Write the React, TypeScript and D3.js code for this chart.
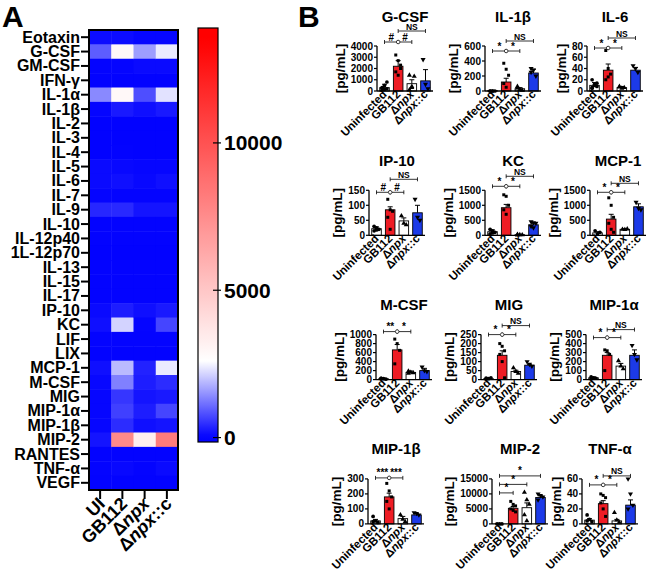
import React from 'react';
import * as d3 from 'd3';

const FONT = 'Arial, "Liberation Sans", Helvetica, sans-serif';

// ---------- panel A: heatmap ----------
const cytokines = ['Eotaxin', 'G-CSF', 'GM-CSF', 'IFN-γ', 'IL-1α', 'IL-1β', 'IL-2', 'IL-3', 'IL-4', 'IL-5',
  'IL-6', 'IL-7', 'IL-9', 'IL-10', 'IL-12p40', '1L-12p70', 'IL-13', 'IL-15', 'IL-17', 'IP-10', 'KC', 'LIF',
  'LIX', 'MCP-1', 'M-CSF', 'MIG', 'MIP-1α', 'MIP-1β', 'MIP-2', 'RANTES', 'TNF-α', 'VEGF'];
const heatGroups = ['UI', 'GB112', 'Δnpx', 'Δnpx::c'];
const heatUI = [120, 950, 40, 30, 1400, 50, 20, 20, 20, 100, 100, 50, 400, 30, 30, 20, 30, 30, 30, 100, 150, 40,
  30, 150, 80, 60, 60, 60, 200, 30, 40, 30];
const heatGB112 = [120, 2900, 50, 30, 2900, 250, 20, 20, 30, 80, 150, 40, 420, 30, 30, 20, 30, 30, 30, 300, 2150, 40,
  30, 1900, 1300, 550, 650, 450, 7600, 30, 80, 30];
const heatNpx = [60, 1600, 100, 30, 800, 150, 20, 20, 20, 60, 80, 40, 200, 30, 30, 20, 30, 30, 30, 150, 50, 40,
  30, 350, 300, 200, 300, 150, 3300, 30, 40, 30];
const heatNpxC = [60, 2400, 100, 30, 2300, 250, 20, 20, 20, 60, 150, 40, 200, 30, 30, 20, 30, 30, 30, 250, 700, 40,
  30, 2400, 450, 250, 700, 200, 8200, 30, 100, 30];
const heatSeries = [heatUI, heatGB112, heatNpx, heatNpxC];
const colorTicks = [0, 5000, 10000];

// ---------- panel B: bar charts ----------
const groups = ['Uninfected', 'GB112', 'Δnpx', 'Δnpx::c'];
const panelNames = ['G-CSF', 'IL-1β', 'IL-6', 'IP-10', 'KC', 'MCP-1', 'M-CSF', 'MIG', 'MIP-1α', 'MIP-1β', 'MIP-2', 'TNF-α'];
const panelTicks = [
  [0, 1000, 2000, 3000, 4000], [0, 200, 400, 600], [0, 20, 40, 60, 80],
  [0, 50, 100, 150], [0, 500, 1000, 1500], [0, 500, 1000, 1500],
  [0, 200, 400, 600, 800, 1000], [0, 50, 100, 150, 200, 250], [0, 100, 200, 300, 400, 500],
  [0, 100, 200, 300], [0, 5000, 10000, 15000], [0, 20, 40, 60],
];
const panelMeans = [
  [300, 2200, 650, 900], [5, 120, 30, 240], [10, 37, 6, 37],
  [22, 85, 48, 75], [120, 920, 20, 350], [80, 540, 200, 950],
  [20, 660, 160, 200], [5, 135, 45, 80], [20, 270, 150, 270],
  [20, 180, 35, 60], [0, 5200, 5400, 8800], [5, 27, 4, 25],
];
const panelErrTops = [
  [600, 2700, 1000, 1900], [8, 170, 45, 290], [15, 48, 8, 42],
  [28, 95, 58, 100], [180, 1030, 30, 400], [120, 700, 220, 1050],
  [30, 780, 190, 250], [8, 160, 52, 85], [30, 300, 180, 330],
  [30, 205, 50, 70], [0, 5800, 7000, 9400], [7, 31, 6, 32],
];
const panelDots = [
  [[100, 150, 200, 300, 500, 800, 250], [3200, 2700, 2300, 1700, 1400, 2000], [100, 400, 1300, 1400, 300], [2800, 600, 200]],
  [[0, 0, 0, 0, 0], [370, 290, 210, 100, 50], [60, 20, 10, 40], [300, 280, 200, 250]],
  [[20, 12, 8, 5, 10, 14, 6], [72, 40, 30, 20, 25], [8, 5, 6, 7], [45, 40, 33]],
  [[30, 25, 20, 15, 18], [120, 85, 80, 60, 20], [65, 40, 35], [120, 60, 50]],
  [[200, 150, 100, 50, 80], [1350, 1300, 1000, 850, 700], [30, 20, 15, 10], [450, 420, 400, 300, 250]],
  [[150, 50, 100], [1250, 1000, 600, 400, 200, 100], [200, 190, 210], [1100, 900, 850]],
  [[30, 20, 10, 25], [900, 800, 650, 350], [190, 160, 150, 140], [280, 200, 180]],
  [[8, 5, 10, 3], [200, 185, 160, 140, 100, 10], [65, 45, 35], [100, 85, 75]],
  [[30, 20, 15, 10], [330, 320, 280, 100], [210, 150, 120], [380, 280, 220]],
  [[50, 20, 10, 15], [270, 220, 180, 150, 100], [60, 30, 15], [75, 70, 60]],
  [[0, 0, 0], [7500, 6500, 6000, 5000, 4500, 4000], [10500, 8000, 6500, 3000, 1000], [10000, 9500, 9000, 8000]],
  [[12, 6, 3, 4], [40, 38, 35, 28, 20, 10], [15, 5, 2], [60, 40, 25, 20]],
];
const std: [number, number, string][] = [[0, 1, '*'], [1, 2, '*'], [1, 3, 'NS']];
const panelBrackets: [number, number, string][][] = [
  [[0, 1, '#'], [1, 2, '#'], [1, 3, 'NS']], std, std,
  [[0, 1, '#'], [1, 2, '#'], [1, 3, 'NS']], std, std,
  [[0, 1, '**'], [1, 2, '*']], std, std,
  [[0, 1, '***'], [1, 2, '***']], [[0, 1, '*'], [0, 2, '*'], [0, 3, '*']], std,
];

// layout of each small chart: y-axis x, bracket offset from plot top, bracket level gap
const panelLayout = [
  { x: 377, base: -4, gap: 11 }, { x: 485, base: 5, gap: 10 }, { x: 587, base: 2, gap: 10 },
  { x: 369, base: 2, gap: 13 }, { x: 485, base: -4, gap: 10 }, { x: 590, base: 2, gap: 9 },
  { x: 376, base: -3, gap: 10 }, { x: 481, base: 0, gap: 9 }, { x: 586, base: 3, gap: 8 },
  { x: 368, base: -1, gap: 10 }, { x: 492, base: 14, gap: 8.5 }, { x: 582, base: 6, gap: 9 },
];
const groupFills = ['#ffffff', '#ee1c24', '#ffffff', '#1c3ae8'];
const groupSymbols = [d3.symbolCircle, d3.symbolSquare, d3.symbolTriangle, d3.symbolTriangle];

const heatColor = d3.scaleLinear<string>()
  .domain([0, 2600, 13500])
  .range(['#0000ff', '#ffffff', '#ff0000'])
  .clamp(true);

const GroupText = ({ name }: { name: string }) =>
  name.startsWith('Δ')
    ? <>Δ<tspan fontStyle="italic">npx</tspan>{name.slice(4)}</>
    : <>{name}</>;

function Heatmap() {
  const xs = d3.scaleBand().domain(heatGroups).range([89, 178]);
  const ys = d3.scaleBand().domain(cytokines).range([30, 490]);
  const cb = d3.scaleLinear().domain([-150, 13900]).range([442, 28]);
  const stops = d3.range(-150, 13901, 250);
  return (
    <g>
      <text x={2} y={27} fontSize={30} fontWeight="bold">A</text>
      {heatSeries.map((vals, j) =>
        vals.map((v, i) => (
          <rect key={`${i}-${j}`} x={xs(heatGroups[j])} y={ys(cytokines[i])}
            width={xs.bandwidth() + 0.5} height={ys.bandwidth() + 0.5} fill={heatColor(v)} />
        )))}
      <rect x={89} y={30} width={89} height={460} fill="none" stroke="#000" strokeWidth={2} />
      {cytokines.map(c => {
        const cy = (ys(c) as number) + ys.bandwidth() / 2;
        return (
          <g key={c}>
            <line x1={81} x2={89} y1={cy} y2={cy} stroke="#000" strokeWidth={2} />
            <text x={80} y={cy} textAnchor="end" dominantBaseline="central" fontSize={16} fontWeight="bold">{c}</text>
          </g>
        );
      })}
      {heatGroups.map(g => {
        const cx = (xs(g) as number) + xs.bandwidth() / 2;
        return (
          <g key={g}>
            <line x1={cx} x2={cx} y1={490} y2={499} stroke="#000" strokeWidth={2} />
            <text transform={`translate(${cx + 6},${505}) rotate(-45)`} textAnchor="end"
              fontSize={18} fontWeight="bold"><GroupText name={g} /></text>
          </g>
        );
      })}
      <defs>
        <linearGradient id="cbar" x1="0" y1="1" x2="0" y2="0">
          {stops.map(s => (
            <stop key={s} offset={(s + 150) / 14050} stopColor={heatColor(Math.max(0, s))} />
          ))}
        </linearGradient>
      </defs>
      <rect x={198} y={cb(13900)} width={20} height={cb(-150) - cb(13900)} fill="url(#cbar)"
        stroke="#000" strokeWidth={1.2} />
      {colorTicks.map(t => (
        <g key={t}>
          <line x1={213} x2={221} y1={cb(t)} y2={cb(t)} stroke="#000" strokeWidth={1.2} />
          <text x={224} y={cb(t)} dominantBaseline="central" fontSize={21} fontWeight="bold">{t}</text>
        </g>
      ))}
    </g>
  );
}

function Panel({ i }: { i: number }) {
  const ticks = panelTicks[i];
  const lay = panelLayout[i];
  const row = Math.floor(i / 3);
  const top = 46 + row * 144.3;
  const bottom = top + 45;
  const y = d3.scaleLinear().domain([0, ticks[ticks.length - 1]]).range([bottom, top]);
  const x = d3.scaleBand().domain(groups).range([lay.x, lay.x + 56]).paddingInner(0.3).paddingOuter(0.2);
  const cx = (k: number) => (x(groups[k]) as number) + x.bandwidth() / 2;
  const maxLabel = d3.max(ticks, t => String(t).length) as number;
  const labelX = lay.x - 10 - maxLabel * 5.6;
  const sym = (k: number) => d3.symbol().type(groupSymbols[k]).size(k === 1 ? 9 : 11)() as string;
  const means = panelMeans[i];
  const errs = panelErrTops[i];
  const brackets = panelBrackets[i];
  const levelY = (lvl: number) => top + lay.base - lvl * lay.gap;
  return (
    <g>
      <text x={lay.x + 28} y={top - 30} textAnchor="middle" dominantBaseline="central" fontSize={15}
        fontWeight="bold">{panelNames[i]}</text>
      <text transform={`translate(${labelX},${(top + bottom) / 2}) rotate(-90)`} textAnchor="middle"
        fontSize={13.5} fontWeight="bold">[pg/mL]</text>
      {/* bars */}
      {means.map((m, k) => (
        <g key={k}>
          <line x1={cx(k)} x2={cx(k)} y1={y(m)} y2={y(errs[k])} stroke="#000" strokeWidth={1} />
          <line x1={cx(k) - 2.5} x2={cx(k) + 2.5} y1={y(errs[k])} y2={y(errs[k])} stroke="#000" strokeWidth={1} />
          <rect x={x(groups[k])} y={y(m)} width={x.bandwidth()} height={bottom - y(m)} fill={groupFills[k]}
            stroke="#000" strokeWidth={0.9} />
        </g>
      ))}
      {/* points */}
      {panelDots[i].map((pts, k) => pts.map((v, j) => (
        <path key={`${k}-${j}`} d={sym(k)}
          transform={`translate(${cx(k) + ((j % 3) - 1) * 2.4},${y(v)})${k === 3 ? ' rotate(180)' : ''}`}
          fill="#000" />
      )))}
      {/* axes */}
      <line x1={lay.x} x2={lay.x} y1={top} y2={bottom} stroke="#000" strokeWidth={1.3} />
      <line x1={lay.x} x2={lay.x + 56} y1={bottom} y2={bottom} stroke="#000" strokeWidth={1.3} />
      {ticks.map(t => (
        <g key={t}>
          <line x1={lay.x - 3} x2={lay.x} y1={y(t)} y2={y(t)} stroke="#000" strokeWidth={1.2} />
          <text x={lay.x - 4} y={y(t)} textAnchor="end" dominantBaseline="central" fontSize={10}
            fontWeight="bold">{t}</text>
        </g>
      ))}
      {groups.map((g, k) => (
        <text key={g} transform={`translate(${cx(k) + 3},${bottom + 4}) rotate(-45)`} textAnchor="end"
          fontSize={11.5} fontWeight="bold"><GroupText name={g} /></text>
      ))}
      {/* significance brackets */}
      {brackets.map(([a, b, lab], n) => {
        const ly = levelY(b - a - 1);
        return (
          <g key={n}>
            <line x1={cx(a)} x2={cx(b)} y1={ly} y2={ly} stroke="#000" strokeWidth={0.8} />
            <line x1={cx(a)} x2={cx(a)} y1={ly - 2} y2={ly + 2} stroke="#000" strokeWidth={0.8} />
            <line x1={cx(b)} x2={cx(b)} y1={ly - 2} y2={ly + 2} stroke="#000" strokeWidth={0.8} />
            <text x={(cx(a) + cx(b)) / 2} y={ly - 1.5} textAnchor="middle" fontSize={lab === 'NS' ? 8.5 : 10}
              fontWeight="bold">{lab}</text>
          </g>
        );
      })}
      {brackets.filter(([a, b]) => b - a === 1).length === 2 && (
        <circle cx={cx(brackets[0][1])} cy={levelY(0)} r={1.8} fill="#fff" stroke="#000" strokeWidth={0.7} />
      )}
    </g>
  );
}

export default function App() {
  return (
    <svg width={650} height={575} style={{ position: 'absolute', left: 0, top: 0, background: '#fff' }}
      fontFamily={FONT}>
      <rect width={650} height={575} fill="#fff" />
      <Heatmap />
      <text x={298} y={27} fontSize={30} fontWeight="bold">B</text>
      {panelNames.map((_, i) => <Panel key={i} i={i} />)}
    </svg>
  );
}
